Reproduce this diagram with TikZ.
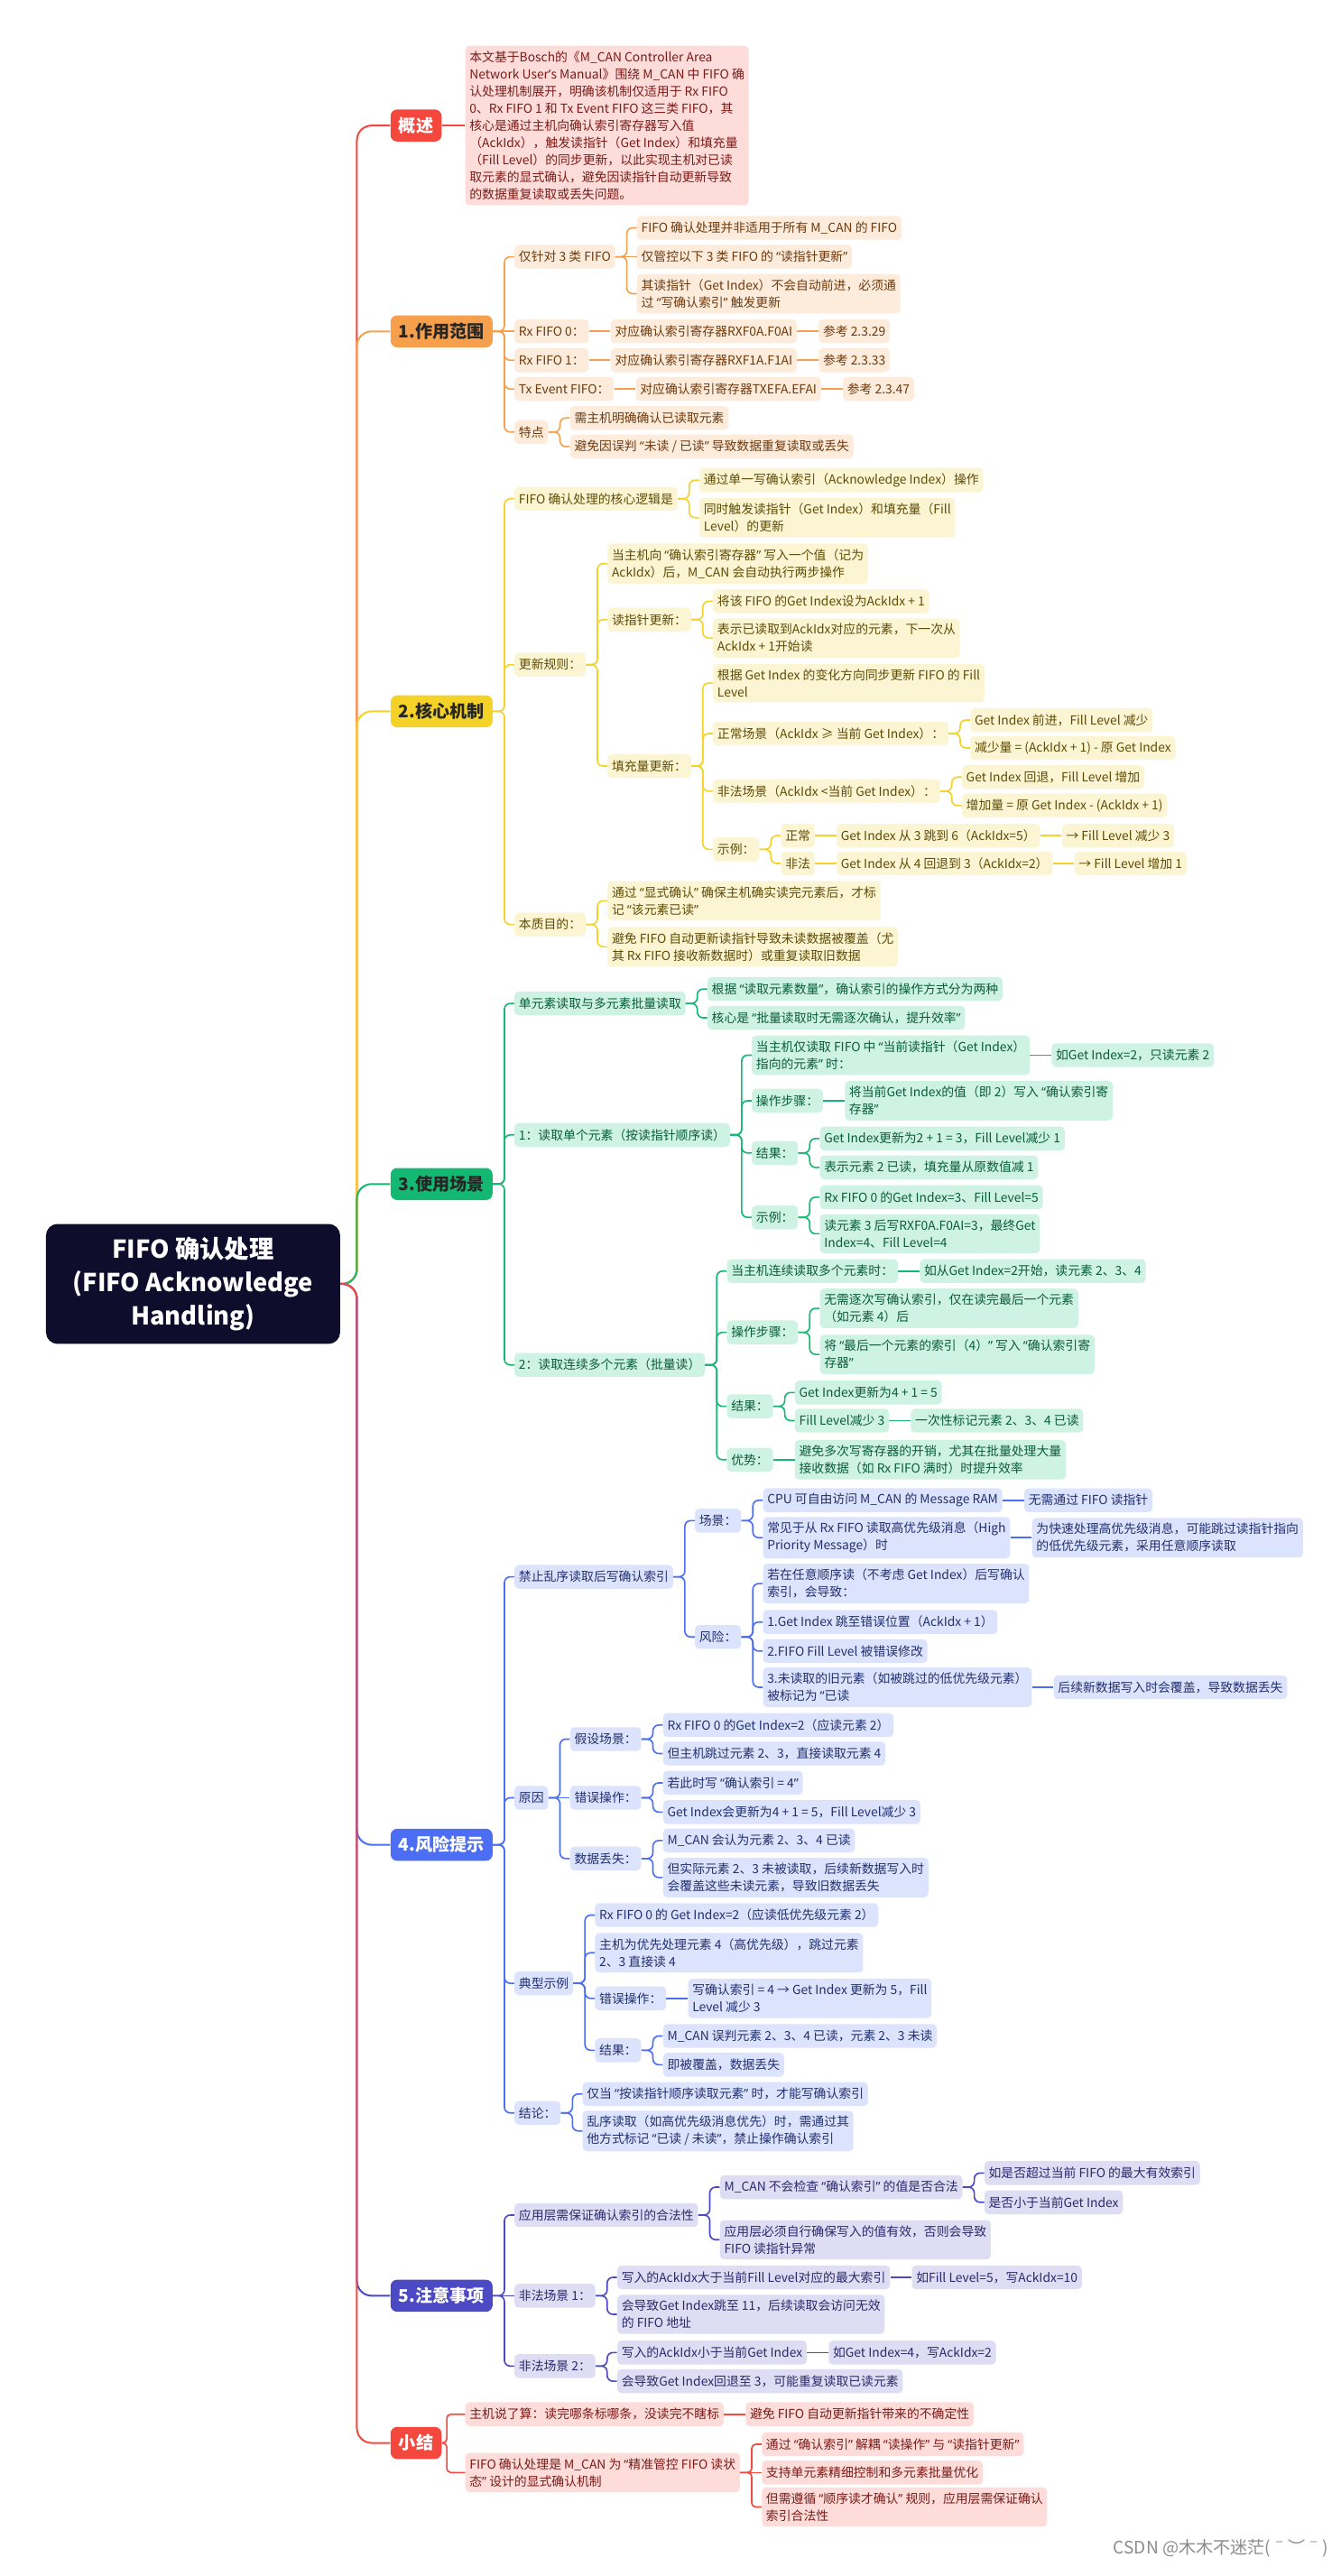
\documentclass[tikz,border=0pt]{standalone}
\usepackage{fontspec}
\setmainfont{Noto Sans CJK SC}
\newfontfamily\qf{Noto Sans}
\newcommand{\ql}{{\qf “}}
\newcommand{\qr}{{\qf ”}}
\usetikzlibrary{calc}
\definecolor{rootc}{HTML}{0E0D2C}
\definecolor{redmn}{HTML}{F4473E}
\definecolor{redlt}{HTML}{FDDCDA}
\definecolor{redtx}{HTML}{7A1B17}
\definecolor{orgmn}{HTML}{F6A04D}
\definecolor{orglt}{HTML}{FDEBDB}
\definecolor{orgtx}{HTML}{6E3A0E}
\definecolor{ylwmn}{HTML}{F5D227}
\definecolor{ylwlt}{HTML}{FCF5D3}
\definecolor{ylwtx}{HTML}{5E4B05}
\definecolor{grnmn}{HTML}{13B872}
\definecolor{grnlt}{HTML}{CEF2E3}
\definecolor{grntx}{HTML}{0A5C3A}
\definecolor{blumn}{HTML}{4C6EF5}
\definecolor{blult}{HTML}{DCE3FD}
\definecolor{blutx}{HTML}{22306E}
\definecolor{indmn}{HTML}{4B49C3}
\definecolor{indlt}{HTML}{DEDDF3}
\definecolor{indtx}{HTML}{2B296B}

\begin{document}
\begin{tikzpicture}[x=1pt,y=-1pt,
  box/.style={rounded corners=2.5pt, inner xsep=2.6pt, inner ysep=3.2pt, minimum height=14.5pt, align=left, font=\fontsize{7.6}{10.45}\selectfont},
  kid/.style 2 args={anchor=west, at={($(#1.east |- 0,#2)+(13,0)$)}},
  top/.style={rounded corners=4pt, inner xsep=5pt, minimum height=19.5pt, anchor=west, font=\fontsize{10.5}{12}\selectfont\bfseries},
  rb/.style={box, fill=redlt, text=redtx},
  ob/.style={box, fill=orglt, text=orgtx},
  yb/.style={box, fill=ylwlt, text=ylwtx},
  gb/.style={box, fill=grnlt, text=grntx},
  bb/.style={box, fill=blult, text=blutx},
  ib/.style={box, fill=indlt, text=indtx},
  rl/.style={draw=redmn, line width=0.9pt, rounded corners=2.5pt},
  ol/.style={draw=orgmn, line width=0.9pt, rounded corners=3.5pt},
  yl/.style={draw=ylwmn, line width=0.9pt, rounded corners=3.5pt},
  gl/.style={draw=grnmn, line width=0.9pt, rounded corners=3.5pt},
  bl/.style={draw=blumn, line width=0.9pt, rounded corners=3.5pt},
  il/.style={draw=indmn, line width=0.9pt, rounded corners=3.5pt}]
  \useasboundingbox (0,0) rectangle (816,1568);
  \fill[white] (0,0) rectangle (816,1568);

  \node[fill=rootc, text=white, rounded corners=7pt, minimum width=179pt, minimum height=73pt, align=center, font=\fontsize{15}{20.5}\selectfont\bfseries] (root) at (117.5,781.5) {FIFO 确认处理\\(FIFO Acknowledge\\Handling)};

  % overview
  \node[top, fill=redmn, text=white] (ov) at (237.5,76.4) {概述};
  \node[rb, anchor=west] (ovt) at (283,76.4) {本文基于Bosch的《M\_CAN Controller Area\\%
Network User{\qf ’}s Manual》围绕 M\_CAN 中 FIFO 确\\%
认处理机制展开，明确该机制仅适用于 Rx FIFO\\%
0、Rx FIFO 1 和 Tx Event FIFO 这三类 FIFO，其\\%
核心是通过主机向确认索引寄存器写入值\\%
（AckIdx），触发读指针（Get Index）和填充量\\%
（Fill Level）的同步更新，以此实现主机对已读\\%
取元素的显式确认，避免因读指针自动更新导致\\%
的数据重复读取或丢失问题。};

  % 1
  \node[top, fill=orgmn, text=black!85] (s1) at (237.5,201.7) {1.作用范围};
  \node[ob, kid={s1}{156.3}] (s1a) {仅针对 3 类 FIFO};
  \node[ob, kid={s1a}{138.7}] (s1a1) {FIFO 确认处理并非适用于所有 M\_CAN 的 FIFO};
  \node[ob, kid={s1a}{156.3}] (s1a2) {仅管控以下 3 类 FIFO 的 \ql{}读指针更新\qr{}};
  \node[ob, kid={s1a}{178.8}] (s1a3) {其读指针（Get Index）不会自动前进，必须通\\过 \ql{}写确认索引\qr{} 触发更新};
  \node[ob, kid={s1}{201.7}] (s1b) {Rx FIFO 0：};
  \node[ob, kid={s1b}{201.7}] (s1b1) {对应确认索引寄存器RXF0A.F0AI};
  \node[ob, kid={s1b1}{201.7}] (s1b2) {参考 2.3.29};
  \node[ob, kid={s1}{219.3}] (s1c) {Rx FIFO 1：};
  \node[ob, kid={s1c}{219.3}] (s1c1) {对应确认索引寄存器RXF1A.F1AI};
  \node[ob, kid={s1c1}{219.3}] (s1c2) {参考 2.3.33};
  \node[ob, kid={s1}{236.8}] (s1d) {Tx Event FIFO：};
  \node[ob, kid={s1d}{236.8}] (s1d1) {对应确认索引寄存器TXEFA.EFAI};
  \node[ob, kid={s1d1}{236.8}] (s1d2) {参考 2.3.47};
  \node[ob, kid={s1}{263}] (s1e) {特点};
  \node[ob, kid={s1e}{254.4}] (s1e1) {需主机明确确认已读取元素};
  \node[ob, kid={s1e}{271.8}] (s1e2) {避免因误判 \ql{}未读 / 已读\qr{} 导致数据重复读取或丢失};

  % 2
  \node[top, fill=ylwmn, text=black!85] (s2) at (237.5,433) {2.核心机制};
  \node[yb, kid={s2}{303.6}] (s2a) {FIFO 确认处理的核心逻辑是};
  \node[yb, kid={s2a}{292.3}] (s2a1) {通过单一写确认索引（Acknowledge Index）操作};
  \node[yb, kid={s2a}{315.1}] (s2a2) {同时触发读指针（Get Index）和填充量（Fill\\Level）的更新};
  \node[yb, kid={s2}{404.6}] (s2b) {更新规则：};
  \node[yb, kid={s2b}{343.1}] (s2b1) {当主机向 \ql{}确认索引寄存器\qr{} 写入一个值（记为\\AckIdx）后，M\_CAN 会自动执行两步操作};
  \node[yb, kid={s2b}{377.2}] (s2b2) {读指针更新：};
  \node[yb, kid={s2b2}{366}] (s2b2a) {将该 FIFO 的Get Index设为AckIdx + 1};
  \node[yb, kid={s2b2}{388.4}] (s2b2b) {表示已读取到AckIdx对应的元素，下一次从\\AckIdx + 1开始读};
  \node[yb, kid={s2b}{466.3}] (s2b3) {填充量更新：};
  \node[yb, kid={s2b3}{415.8}] (s2b3a) {根据 Get Index 的变化方向同步更新 FIFO 的 Fill\\Level};
  \node[yb, kid={s2b3}{446.5}] (s2b3b) {正常场景（AckIdx ≥ 当前 Get Index）：};
  \node[yb, kid={s2b3b}{438.3}] (s2b3b1) {Get Index 前进，Fill Level 减少};
  \node[yb, kid={s2b3b}{455.3}] (s2b3b2) {减少量 = (AckIdx + 1) - 原 Get Index};
  \node[yb, kid={s2b3}{481.6}] (s2b3c) {非法场景（AckIdx <当前 Get Index）：};
  \node[yb, kid={s2b3c}{473}] (s2b3c1) {Get Index 回退，Fill Level 增加};
  \node[yb, kid={s2b3c}{490.4}] (s2b3c2) {增加量 = 原 Get Index - (AckIdx + 1)};
  \node[yb, kid={s2b3}{517}] (s2b3d) {示例：};
  \node[yb, kid={s2b3d}{508.7}] (ex1) {正常};
  \node[yb, kid={ex1}{508.7}] (ex1a) {Get Index 从 3 跳到 6（AckIdx=5）};
  \node[yb, kid={ex1a}{508.7}] (ex1b) {→ Fill Level 减少 3};
  \node[yb, kid={s2b3d}{525.6}] (ex2) {非法};
  \node[yb, kid={ex2}{525.6}] (ex2a) {Get Index 从 4 回退到 3（AckIdx=2）};
  \node[yb, kid={ex2a}{525.6}] (ex2b) {→ Fill Level 增加 1};
  \node[yb, kid={s2}{562.7}] (s2c) {本质目的：};
  \node[yb, kid={s2c}{548.3}] (s2c1) {通过 \ql{}显式确认\qr{} 确保主机确实读完元素后，才标\\记 \ql{}该元素已读\qr{}};
  \node[yb, kid={s2c}{576.3}] (s2c2) {避免 FIFO 自动更新读指针导致未读数据被覆盖（尤\\其 Rx FIFO 接收新数据时）或重复读取旧数据};

  % 3
  \node[top, fill=grnmn, text=black!85] (s3) at (237.5,720.7) {3.使用场景};
  \node[gb, kid={s3}{610.8}] (s3a) {单元素读取与多元素批量读取};
  \node[gb, kid={s3a}{602}] (s3a1) {根据 \ql{}读取元素数量\qr{}，确认索引的操作方式分为两种};
  \node[gb, kid={s3a}{619.5}] (s3a2) {核心是 \ql{}批量读取时无需逐次确认，提升效率\qr{}};
  \node[gb, kid={s3}{690.8}] (s3b) {1：读取单个元素（按读指针顺序读）};
  \node[gb, kid={s3b}{642.3}] (s3b1) {当主机仅读取 FIFO 中 \ql{}当前读指针（Get Index）\\指向的元素\qr{} 时：};
  \node[gb, kid={s3b1}{642.3}] (s3b1a) {如Get Index=2，只读元素 2};
  \node[gb, kid={s3b}{670}] (s3b2) {操作步骤：};
  \node[gb, kid={s3b2}{670}] (s3b2a) {将当前Get Index的值（即 2）写入 \ql{}确认索引寄\\存器\qr{}};
  \node[gb, kid={s3b}{701.8}] (s3b3) {结果：};
  \node[gb, kid={s3b3}{693}] (s3b3a) {Get Index更新为2 + 1 = 3，Fill Level减少 1};
  \node[gb, kid={s3b3}{710.6}] (s3b3b) {表示元素 2 已读，填充量从原数值减 1};
  \node[gb, kid={s3b}{741}] (s3b4) {示例：};
  \node[gb, kid={s3b4}{728.7}] (s3b4a) {Rx FIFO 0 的Get Index=3、Fill Level=5};
  \node[gb, kid={s3b4}{751}] (s3b4b) {读元素 3 后写RXF0A.F0AI=3，最终Get\\Index=4、Fill Level=4};
  \node[gb, kid={s3}{830.8}] (s3c) {2：读取连续多个元素（批量读）};
  \node[gb, kid={s3c}{773.7}] (s3c1) {当主机连续读取多个元素时：};
  \node[gb, kid={s3c1}{773.7}] (s3c1a) {如从Get Index=2开始，读元素 2、3、4};
  \node[gb, kid={s3c}{811}] (s3c2) {操作步骤：};
  \node[gb, kid={s3c2}{796.4}] (s3c2a) {无需逐次写确认索引，仅在读完最后一个元素\\（如元素 4）后};
  \node[gb, kid={s3c2}{824.4}] (s3c2b) {将 \ql{}最后一个元素的索引（4）\qr{} 写入 \ql{}确认索引寄\\存器\qr{}};
  \node[gb, kid={s3c}{856}] (s3c3) {结果：};
  \node[gb, kid={s3c3}{847.6}] (s3c3a) {Get Index更新为4 + 1 = 5};
  \node[gb, kid={s3c3}{864.7}] (s3c3b) {Fill Level减少 3};
  \node[gb, kid={s3c3b}{864.7}] (s3c3b1) {一次性标记元素 2、3、4 已读};
  \node[gb, kid={s3c}{888.5}] (s3c4) {优势：};
  \node[gb, kid={s3c4}{888.5}] (s3c4a) {避免多次写寄存器的开销，尤其在批量处理大量\\接收数据（如 Rx FIFO 满时）时提升效率};

  % 4
  \node[top, fill=blumn, text=white] (s4) at (237.5,1122.9) {4.风险提示};
  \node[bb, kid={s4}{959.8}] (s4a) {禁止乱序读取后写确认索引};
  \node[bb, kid={s4a}{925.6}] (s4a1) {场景：};
  \node[bb, kid={s4a1}{913.2}] (s4a1a) {CPU 可自由访问 M\_CAN 的 Message RAM};
  \node[bb, kid={s4a1a}{913.2}] (s4a1a1) {无需通过 FIFO 读指针};
  \node[bb, kid={s4a1}{936}] (s4a1b) {常见于从 Rx FIFO 读取高优先级消息（High\\Priority Message）时};
  \node[bb, kid={s4a1b}{936}] (s4a1b1) {为快速处理高优先级消息，可能跳过读指针指向\\的低优先级元素，采用任意顺序读取};
  \node[bb, kid={s4a}{996.4}] (s4a2) {风险：};
  \node[bb, kid={s4a2}{963.9}] (s4a2a) {若在任意顺序读（不考虑 Get Index）后写确认\\索引，会导致：};
  \node[bb, kid={s4a2}{987.3}] (s4a2b) {1.Get Index 跳至错误位置（AckIdx + 1）};
  \node[bb, kid={s4a2}{1005}] (s4a2c) {2.FIFO Fill Level 被错误修改};
  \node[bb, kid={s4a2}{1027}] (s4a2d) {3.未读取的旧元素（如被跳过的低优先级元素）\\被标记为 \ql{}已读};
  \node[bb, kid={s4a2d}{1027}] (s4a2d1) {后续新数据写入时会覆盖，导致数据丢失};
  \node[bb, kid={s4}{1094.3}] (s4b) {原因};
  \node[bb, kid={s4b}{1058.6}] (s4b1) {假设场景：};
  \node[bb, kid={s4b1}{1050}] (s4b1a) {Rx FIFO 0 的Get Index=2（应读元素 2）};
  \node[bb, kid={s4b1}{1067.4}] (s4b1b) {但主机跳过元素 2、3，直接读取元素 4};
  \node[bb, kid={s4b}{1094.3}] (s4b2) {错误操作：};
  \node[bb, kid={s4b2}{1085.2}] (s4b2a) {若此时写 \ql{}确认索引 = 4\qr{}};
  \node[bb, kid={s4b2}{1103}] (s4b2b) {Get Index会更新为4 + 1 = 5，Fill Level减少 3};
  \node[bb, kid={s4b}{1131.3}] (s4b3) {数据丢失：};
  \node[bb, kid={s4b3}{1120.3}] (s4b3a) {M\_CAN 会认为元素 2、3、4 已读};
  \node[bb, kid={s4b3}{1142.8}] (s4b3b) {但实际元素 2、3 未被读取，后续新数据写入时\\会覆盖这些未读元素，导致旧数据丢失};
  \node[bb, kid={s4}{1207.2}] (s4c) {典型示例};
  \node[bb, kid={s4c}{1165.7}] (s4c1) {Rx FIFO 0 的 Get Index=2（应读低优先级元素 2）};
  \node[bb, kid={s4c}{1188.6}] (s4c2) {主机为优先处理元素 4（高优先级），跳过元素\\2、3 直接读 4};
  \node[bb, kid={s4c}{1216.4}] (s4c3) {错误操作：};
  \node[bb, kid={s4c3}{1216.4}] (s4c3a) {写确认索引 = 4 → Get Index 更新为 5，Fill\\Level 减少 3};
  \node[bb, kid={s4c}{1248}] (s4c4) {结果：};
  \node[bb, kid={s4c4}{1239.3}] (s4c4a) {M\_CAN 误判元素 2、3、4 已读，元素 2、3 未读};
  \node[bb, kid={s4c4}{1256.8}] (s4c4b) {即被覆盖，数据丢失};
  \node[bb, kid={s4}{1286.1}] (s4d) {结论：};
  \node[bb, kid={s4d}{1274.6}] (s4d1) {仅当 \ql{}按读指针顺序读取元素\qr{} 时，才能写确认索引};
  \node[bb, kid={s4d}{1297.1}] (s4d2) {乱序读取（如高优先级消息优先）时，需通过其\\他方式标记 \ql{}已读 / 未读\qr{}，禁止操作确认索引};

  % 5
  \node[top, fill=indmn, text=white] (s5) at (237.5,1397.4) {5.注意事项};
  \node[ib, kid={s5}{1348.3}] (s5a) {应用层需保证确认索引的合法性};
  \node[ib, kid={s5a}{1331.3}] (s5a1) {M\_CAN 不会检查 \ql{}确认索引\qr{} 的值是否合法};
  \node[ib, kid={s5a1}{1322.7}] (s5a1a) {如是否超过当前 FIFO 的最大有效索引};
  \node[ib, kid={s5a1}{1340.5}] (s5a1b) {是否小于当前Get Index};
  \node[ib, kid={s5a}{1363.3}] (s5a2) {应用层必须自行确保写入的值有效，否则会导致\\FIFO 读指针异常};
  \node[ib, kid={s5}{1397.4}] (s5b) {非法场景 1：};
  \node[ib, kid={s5b}{1386.2}] (s5b1) {写入的AckIdx大于当前Fill Level对应的最大索引};
  \node[ib, kid={s5b1}{1386.2}] (s5b1a) {如Fill Level=5，写AckIdx=10};
  \node[ib, kid={s5b}{1408.7}] (s5b2) {会导致Get Index跳至 11，后续读取会访问无效\\的 FIFO 地址};
  \node[ib, kid={s5}{1440.2}] (s5c) {非法场景 2：};
  \node[ib, kid={s5c}{1432}] (s5c1) {写入的AckIdx小于当前Get Index};
  \node[ib, kid={s5c1}{1432}] (s5c1a) {如Get Index=4，写AckIdx=2};
  \node[ib, kid={s5c}{1449.4}] (s5c2) {会导致Get Index回退至 3，可能重复读取已读元素};

  % summary
  \node[top, fill=redmn, text=white] (sm) at (237.5,1487) {小结};
  \node[rb, anchor=west] (sm1) at (283,1469.5) {主机说了算：读完哪条标哪条，没读完不瞎标};
  \node[rb, kid={sm1}{1469.5}] (sm1a) {避免 FIFO 自动更新指针带来的不确定性};
  \node[rb, anchor=west] (sm2) at (283,1505) {FIFO 确认处理是 M\_CAN 为 \ql{}精准管控 FIFO 读状\\态\qr{} 设计的显式确认机制};
  \node[rb, kid={sm2}{1487.8}] (sm2a) {通过 \ql{}确认索引\qr{} 解耦 \ql{}读操作\qr{} 与 \ql{}读指针更新\qr{}};
  \node[rb, kid={sm2}{1505}] (sm2b) {支持单元素精细控制和多元素批量优化};
  \node[rb, kid={sm2}{1526}] (sm2c) {但需遵循 \ql{}顺序读才确认\qr{} 规则，应用层需保证确认\\索引合法性};

  \node[anchor=east, text=black!45, font=\fontsize{10.5}{12}\selectfont] (mark) at (812,1551) {CSDN @木木不迷茫(ˉ︶ˉ)};

  % connectors
  \foreach \m/\c in {ov/redmn, s1/orgmn, s2/ylwmn, s3/grnmn, s4/blumn, s5/indmn, sm/redmn}
    \draw[draw=\c, line width=1.1pt, rounded corners=9pt] (root.east) -- ++(10,0) |- (\m.west);
  \foreach \p/\c in {sm/sm1, sm/sm2}
    \draw[rl] (\p.east) -- ++(3,0) |- (\c.west);
  \foreach \p/\c in {sm2/sm2a, sm2/sm2c}
    \draw[rl] (\p.east) -- ++(7,0) |- (\c.west);
  \foreach \p/\c in {ov/ovt, sm1/sm1a, sm2/sm2b}
    \draw[rl] (\p.east) -- (\c.west);
  \foreach \p/\c in {s1/s1a, s1/s1c, s1/s1d, s1/s1e, s1a/s1a1, s1a/s1a3, s1e/s1e1, s1e/s1e2}
    \draw[ol] (\p.east) -- ++(7,0) |- (\c.west);
  \foreach \p/\c in {s1/s1b, s1a/s1a2, s1b/s1b1, s1b1/s1b2, s1c/s1c1, s1c1/s1c2, s1d/s1d1, s1d1/s1d2}
    \draw[ol] (\p.east) -- (\c.west);
  \foreach \p/\c in {s2/s2a, s2/s2b, s2/s2c, s2a/s2a1, s2a/s2a2, s2b/s2b1, s2b/s2b2, s2b/s2b3, s2b2/s2b2a, s2b2/s2b2b, s2b3/s2b3a, s2b3/s2b3b, s2b3/s2b3c, s2b3/s2b3d, s2b3b/s2b3b1, s2b3b/s2b3b2, s2b3c/s2b3c1, s2b3c/s2b3c2, s2b3d/ex1, s2b3d/ex2, s2c/s2c1, s2c/s2c2}
    \draw[yl] (\p.east) -- ++(7,0) |- (\c.west);
  \foreach \p/\c in {ex1/ex1a, ex1a/ex1b, ex2/ex2a, ex2a/ex2b}
    \draw[yl] (\p.east) -- (\c.west);
  \foreach \p/\c in {s3/s3a, s3/s3b, s3/s3c, s3a/s3a1, s3a/s3a2, s3b/s3b1, s3b/s3b2, s3b/s3b3, s3b/s3b4, s3b3/s3b3a, s3b3/s3b3b, s3b4/s3b4a, s3b4/s3b4b, s3c/s3c1, s3c/s3c2, s3c/s3c3, s3c/s3c4, s3c2/s3c2a, s3c2/s3c2b, s3c3/s3c3a, s3c3/s3c3b}
    \draw[gl] (\p.east) -- ++(7,0) |- (\c.west);
  \foreach \p/\c in {s3b1/s3b1a, s3b2/s3b2a, s3c1/s3c1a, s3c3b/s3c3b1, s3c4/s3c4a}
    \draw[gl] (\p.east) -- (\c.west);
  \foreach \p/\c in {s4/s4a, s4/s4b, s4/s4c, s4/s4d, s4a/s4a1, s4a/s4a2, s4a1/s4a1a, s4a1/s4a1b, s4a2/s4a2a, s4a2/s4a2b, s4a2/s4a2c, s4a2/s4a2d, s4b/s4b1, s4b/s4b3, s4b1/s4b1a, s4b1/s4b1b, s4b2/s4b2a, s4b2/s4b2b, s4b3/s4b3a, s4b3/s4b3b, s4c/s4c1, s4c/s4c2, s4c/s4c3, s4c/s4c4, s4c4/s4c4a, s4c4/s4c4b, s4d/s4d1, s4d/s4d2}
    \draw[bl] (\p.east) -- ++(7,0) |- (\c.west);
  \foreach \p/\c in {s4a1a/s4a1a1, s4a1b/s4a1b1, s4a2d/s4a2d1, s4b/s4b2, s4c3/s4c3a}
    \draw[bl] (\p.east) -- (\c.west);
  \foreach \p/\c in {s5/s5a, s5/s5c, s5a/s5a1, s5a/s5a2, s5a1/s5a1a, s5a1/s5a1b, s5b/s5b1, s5b/s5b2, s5c/s5c1, s5c/s5c2}
    \draw[il] (\p.east) -- ++(7,0) |- (\c.west);
  \foreach \p/\c in {s5/s5b, s5b1/s5b1a, s5c1/s5c1a}
    \draw[il] (\p.east) -- (\c.west);
\end{tikzpicture}
\end{document}
